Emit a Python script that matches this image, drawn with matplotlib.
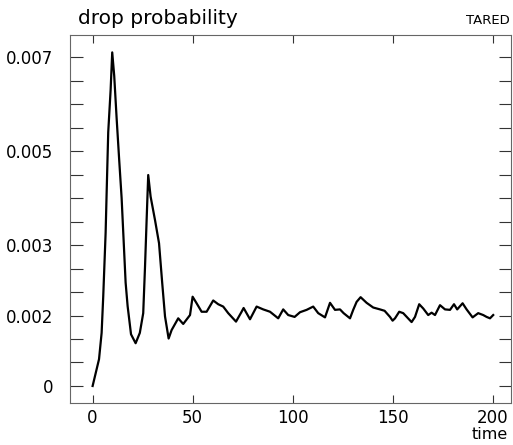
import matplotlib
matplotlib.use('Agg')
import matplotlib.pyplot as plt
from matplotlib.ticker import MultipleLocator

# drop probability over time
t = [0, 3.2, 4.5, 5.3, 6.5, 7.0, 7.8, 9.0, 9.8, 10.8, 12.0, 13.3, 14.5, 15.5,
     16.5, 17.5, 19.2, 21.5, 23.6, 25.3, 26.2, 27.0, 27.8, 29.0, 31.2, 33.2,
     34.8, 36.2, 38.0, 39.5, 42.8, 45.3, 48.7, 50.0, 52.0, 54.5, 57.0, 60.3,
     62.8, 65.3, 67.8, 71.7, 74.5, 75.5, 78.7, 82.0, 85.3, 88.7, 92.8, 95.3,
     97.8, 101.0, 103.7, 107.0, 110.3, 112.8, 116.2, 118.7, 121.2, 123.7,
     125.5, 128.7, 130.3, 132.0, 134.0, 137.0, 140.3, 143.7, 146.0, 148.7,
     150.0, 151.2, 153.3, 155.3, 159.5, 161.2, 163.3, 165.3, 167.8, 169.5,
     171.2, 173.7, 176.2, 178.7, 180.7, 182.3, 185.0, 187.0, 190.0, 192.8,
     195.3, 197.0, 198.7, 200.3]
p = [0.0, 0.00057, 0.00113, 0.0019, 0.00326, 0.0041, 0.0054, 0.0063, 0.0071,
     0.0066, 0.0057, 0.0048, 0.0040, 0.0031, 0.0022, 0.0017, 0.0011, 0.00091,
     0.00113, 0.00155, 0.00254, 0.00353, 0.00449, 0.00403, 0.00353, 0.00304,
     0.00219, 0.00148, 0.00101, 0.00119, 0.00144, 0.00132, 0.00151, 0.0019,
     0.00176, 0.00158, 0.00158, 0.00182, 0.00174, 0.00169, 0.00155, 0.00137,
     0.00158, 0.00166, 0.00142, 0.00169, 0.00163, 0.00158, 0.00144, 0.00163,
     0.00151, 0.00147, 0.00157, 0.00162, 0.00169, 0.00155, 0.00146, 0.00177,
     0.00162, 0.00163, 0.00155, 0.00144, 0.00162, 0.00179, 0.00189, 0.00177,
     0.00167, 0.00163, 0.00160, 0.00147, 0.00139, 0.00144, 0.00158, 0.00155,
     0.00136, 0.00147, 0.00174, 0.00165, 0.00151, 0.00156, 0.00151, 0.00172,
     0.00163, 0.00162, 0.00174, 0.00163, 0.00176, 0.00163, 0.00146, 0.00155,
     0.00151, 0.00147, 0.00144, 0.00151]

xticks = [0, 50, 100, 150, 200]
yticks = [0, 0.0015, 0.003, 0.005, 0.007]
ylabels = ['0', '0.002', '0.003', '0.005', '0.007']

plt.rcParams['font.family'] = 'DejaVu Sans'

fig = plt.figure(figsize=(5.13, 4.45), dpi=100)
ax = fig.add_axes([0.1365, 0.0944, 0.8596, 0.828])

ax.plot(t, p, color='black', lw=1.6)

ax.set_xlim(-11.3, 209.2)
ax.set_ylim(-0.000362, 0.00748)

ax.set_xticks(xticks)
ax.set_xticklabels([str(v) for v in xticks])
ax.set_yticks(yticks)
ax.set_yticklabels(ylabels)
ax.yaxis.set_minor_locator(MultipleLocator(0.0005))

for s in ax.spines.values():
    s.set_color('#666666')
    s.set_linewidth(0.8)

ax.tick_params(axis='both', which='both', direction='in', colors='#333333',
               labelcolor='black', labelsize=12)
ax.tick_params(axis='y', which='both', right=True, length=9, width=0.8, pad=12)
ax.tick_params(axis='x', which='major', top=True, length=6, width=0.8, pad=4)

fig.text(0.152, 0.958, 'drop probability', fontsize=14.5, ha='left', va='center')
fig.text(0.993, 0.955, 'TARED', fontsize=9.5, ha='right', va='center')
fig.text(0.99, 0.024, 'time', fontsize=11.5, ha='right', va='center')

fig.savefig('out.png', dpi=100)
